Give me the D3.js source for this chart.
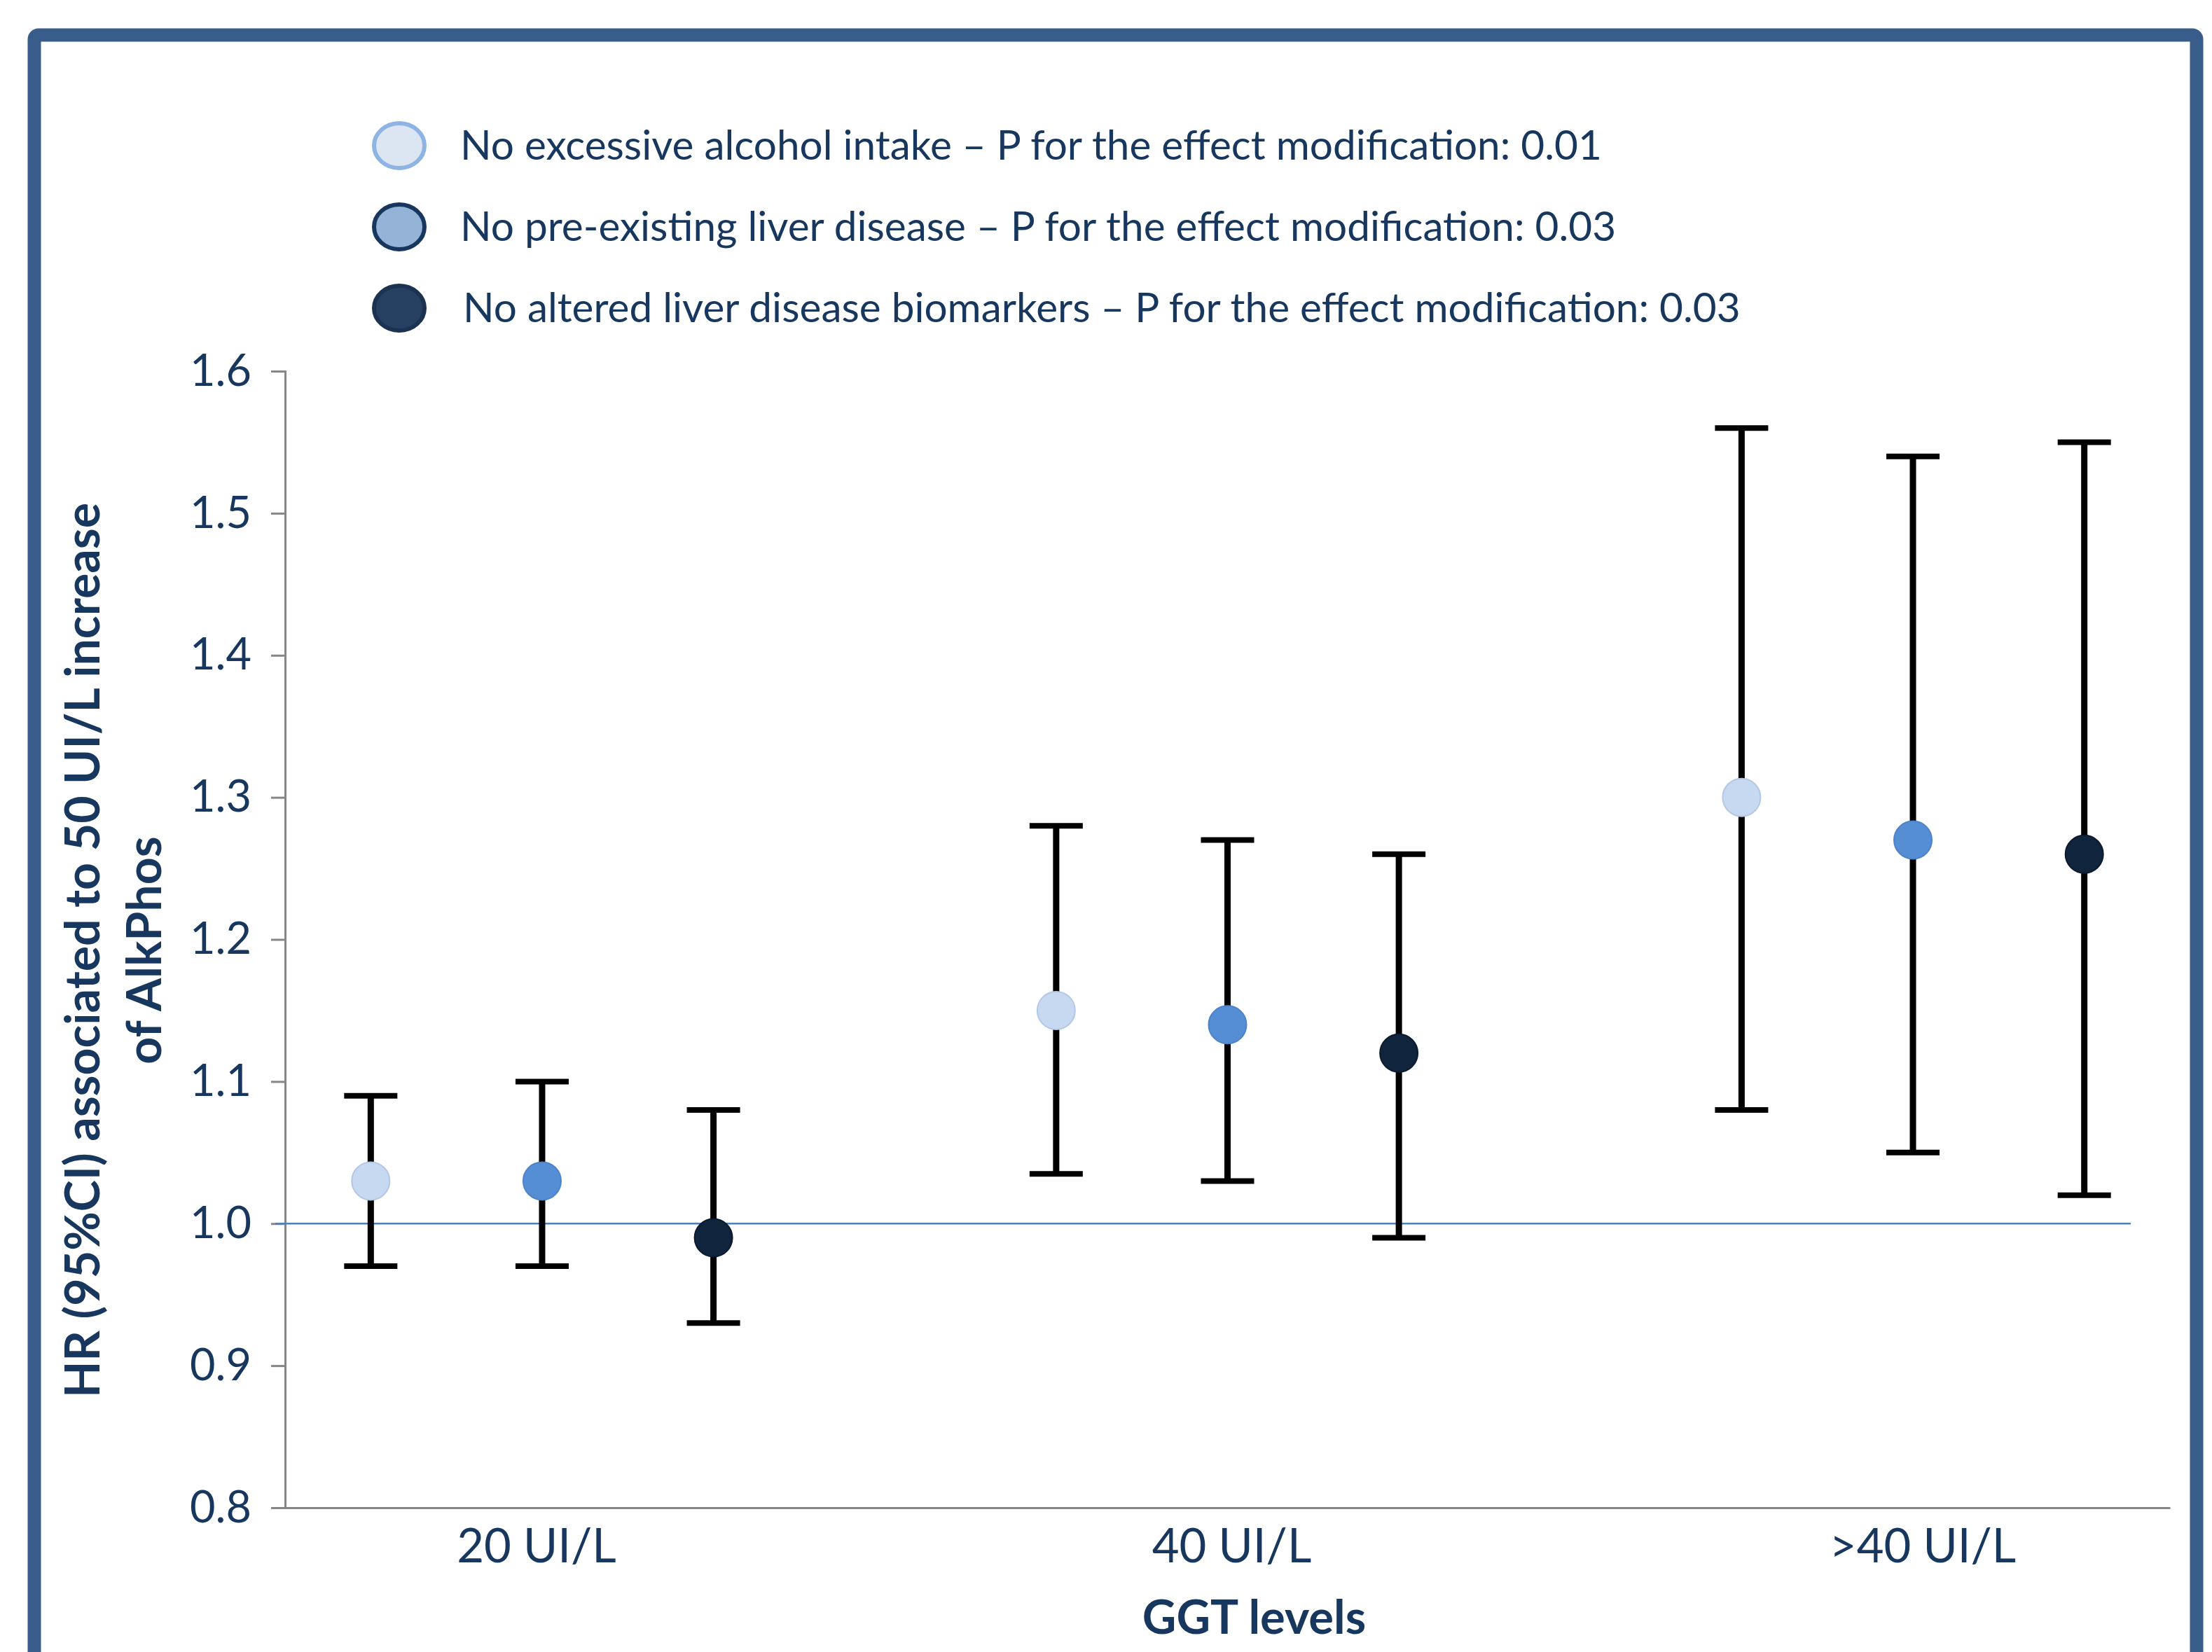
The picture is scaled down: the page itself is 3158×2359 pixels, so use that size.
<!DOCTYPE html>
<html lang="en">
<head>
<meta charset="utf-8">
<title>HR by GGT levels</title>
<script src="https://cdn.jsdelivr.net/npm/d3@7"></script>
<style>
  body { margin: 0; background: #fff; }
  text { font-family: Lato, "Open Sans", sans-serif; fill: #17375e; }
</style>
</head>
<body>
<script>
// categories on the x axis
var categories = ["20 UI/L", "40 UI/L", ">40 UI/L"];

// legend labels, one per series
var seriesLabels = [
  "No excessive alcohol intake \u2013 P for the effect modification: 0.01",
  "No pre-existing liver disease \u2013 P for the effect modification: 0.03",
  "No altered liver disease biomarkers \u2013 P for the effect modification: 0.03"
];

// hazard ratios and 95% CI, per series, per category
var hrAlcohol   = [1.03, 1.15, 1.30];
var lowAlcohol  = [0.97, 1.035, 1.08];
var highAlcohol = [1.09, 1.28, 1.56];

var hrLiver   = [1.03, 1.14, 1.27];
var lowLiver  = [0.97, 1.03, 1.05];
var highLiver = [1.10, 1.27, 1.54];

var hrMarkers   = [0.99, 1.12, 1.26];
var lowMarkers  = [0.93, 0.99, 1.02];
var highMarkers = [1.08, 1.26, 1.55];

var yTicks = [0.8, 0.9, 1.0, 1.1, 1.2, 1.3, 1.4, 1.5, 1.6];
var refValue = 1.0;

var pointColors  = ["#c6d9f1", "#558ed5", "#10243e"];
var pointStrokes = ["#b3c8e6", "#4f83c8", "#0b1a2e"];
var legendFill   = ["#dce6f2", "#95b3d7", "#254061"];
var legendStroke = ["#8eb4e3", "#17375e", "#1b3350"];

var W = 3158, H = 2359;
var svg = d3.select("body").append("svg")
    .attr("width", W)
    .attr("height", H);

// outer frame
svg.append("rect")
    .attr("x", 49).attr("y", 50)
    .attr("width", 3087).attr("height", 2400)
    .attr("rx", 6)
    .attr("fill", "#fff")
    .attr("stroke", "#385d8a")
    .attr("stroke-width", 19);

var plot = {left: 407, right: 3098, top: 530, bottom: 2153};

var x = d3.scaleBand()
    .domain(categories)
    .range([plot.left, plot.right])
    .paddingInner(0.25)
    .paddingOuter(0);

var xSeries = d3.scaleBand()
    .domain([0, 1, 2])
    .range([0, x.bandwidth()]);

var y = d3.scaleLinear()
    .domain([0.8, 1.6])
    .range([plot.bottom, plot.top]);

// build rows from the arrays
var series = [
  {hr: hrAlcohol, low: lowAlcohol, high: highAlcohol},
  {hr: hrLiver, low: lowLiver, high: highLiver},
  {hr: hrMarkers, low: lowMarkers, high: highMarkers}
];
var rows = [];
series.forEach(function(s, si) {
  categories.forEach(function(c, ci) {
    rows.push({cat: c, s: si, hr: s.hr[ci], low: s.low[ci], high: s.high[ci]});
  });
});
function cx(d) { return x(d.cat) + xSeries(d.s) + xSeries.bandwidth() / 2; }

// y axis
var yAxis = svg.append("g")
    .attr("transform", "translate(" + plot.left + ",0)")
    .call(d3.axisLeft(y).tickValues(yTicks).tickFormat(d3.format(".1f")).tickSize(20).tickPadding(28));
yAxis.select(".domain").attr("stroke", "#868686").attr("stroke-width", 3);
yAxis.selectAll(".tick line").attr("stroke", "#868686").attr("stroke-width", 3);
yAxis.selectAll(".tick text")
    .attr("font-family", "Lato, sans-serif")
    .attr("font-size", 63)
    .attr("fill", "#17375e");

// x axis
var labelShift = [-8, 6, 14];
var xAxis = svg.append("g")
    .attr("transform", "translate(0," + plot.bottom + ")")
    .call(d3.axisBottom(x).tickSize(0).tickPadding(30));
xAxis.select(".domain").attr("stroke", "#868686").attr("stroke-width", 3);
xAxis.selectAll(".tick text")
    .attr("font-family", "Lato, sans-serif")
    .attr("font-size", 67)
    .attr("fill", "#17375e")
    .attr("dx", function(d, i) { return labelShift[i]; });

// reference line at HR = 1
svg.append("line")
    .attr("x1", plot.left - 14).attr("x2", plot.right - 56)
    .attr("y1", y(refValue)).attr("y2", y(refValue))
    .attr("stroke", "#4f81bd")
    .attr("stroke-width", 2.5);

// error bars
var capW = 76;
var bars = svg.append("g").selectAll("g")
    .data(rows).enter().append("g");
bars.append("line")
    .attr("x1", cx).attr("x2", cx)
    .attr("y1", function(d) { return y(d.low); })
    .attr("y2", function(d) { return y(d.high); })
    .attr("stroke", "#000").attr("stroke-width", 9);
bars.append("line")
    .attr("x1", function(d) { return cx(d) - capW / 2; })
    .attr("x2", function(d) { return cx(d) + capW / 2; })
    .attr("y1", function(d) { return y(d.high); })
    .attr("y2", function(d) { return y(d.high); })
    .attr("stroke", "#000").attr("stroke-width", 8);
bars.append("line")
    .attr("x1", function(d) { return cx(d) - capW / 2; })
    .attr("x2", function(d) { return cx(d) + capW / 2; })
    .attr("y1", function(d) { return y(d.low); })
    .attr("y2", function(d) { return y(d.low); })
    .attr("stroke", "#000").attr("stroke-width", 8);

// points
svg.append("g").selectAll("circle")
    .data(rows).enter().append("circle")
    .attr("cx", cx)
    .attr("cy", function(d) { return y(d.hr); })
    .attr("r", 27)
    .attr("fill", function(d) { return pointColors[d.s]; })
    .attr("stroke", function(d) { return pointStrokes[d.s]; })
    .attr("stroke-width", 2);

// legend
var legend = svg.append("g").selectAll("g")
    .data(seriesLabels).enter().append("g")
    .attr("transform", function(d, i) { return "translate(570," + (228 + i * 116) + ")"; });
legend.append("ellipse")
    .attr("cx", 0).attr("cy", -20)
    .attr("rx", 36).attr("ry", 32)
    .attr("fill", function(d, i) { return legendFill[i]; })
    .attr("stroke", function(d, i) { return legendStroke[i]; })
    .attr("stroke-width", 6);
legend.append("text")
    .attr("x", function(d, i) { return i == 2 ? 91 : 87; })
    .attr("y", 0)
    .attr("font-size", 58.5)
    .text(function(d) { return d; });

// axis titles
var yTitle = svg.append("text")
    .attr("transform", "translate(142,1357) rotate(-90)")
    .attr("text-anchor", "middle")
    .attr("font-weight", "bold")
    .attr("font-size", 68)
    .attr("fill", "#17375e");
yTitle.append("tspan").attr("x", 0).attr("y", 0)
    .text("HR (95%CI) associated to 50 UI/L increase");
yTitle.append("tspan").attr("x", 0).attr("y", 88)
    .text("of AlkPhos");

svg.append("text")
    .attr("x", (plot.left + plot.right) / 2 + 38)
    .attr("y", 2333)
    .attr("text-anchor", "middle")
    .attr("font-weight", "bold")
    .attr("font-size", 67)
    .text("GGT levels");
</script>
</body>
</html>
